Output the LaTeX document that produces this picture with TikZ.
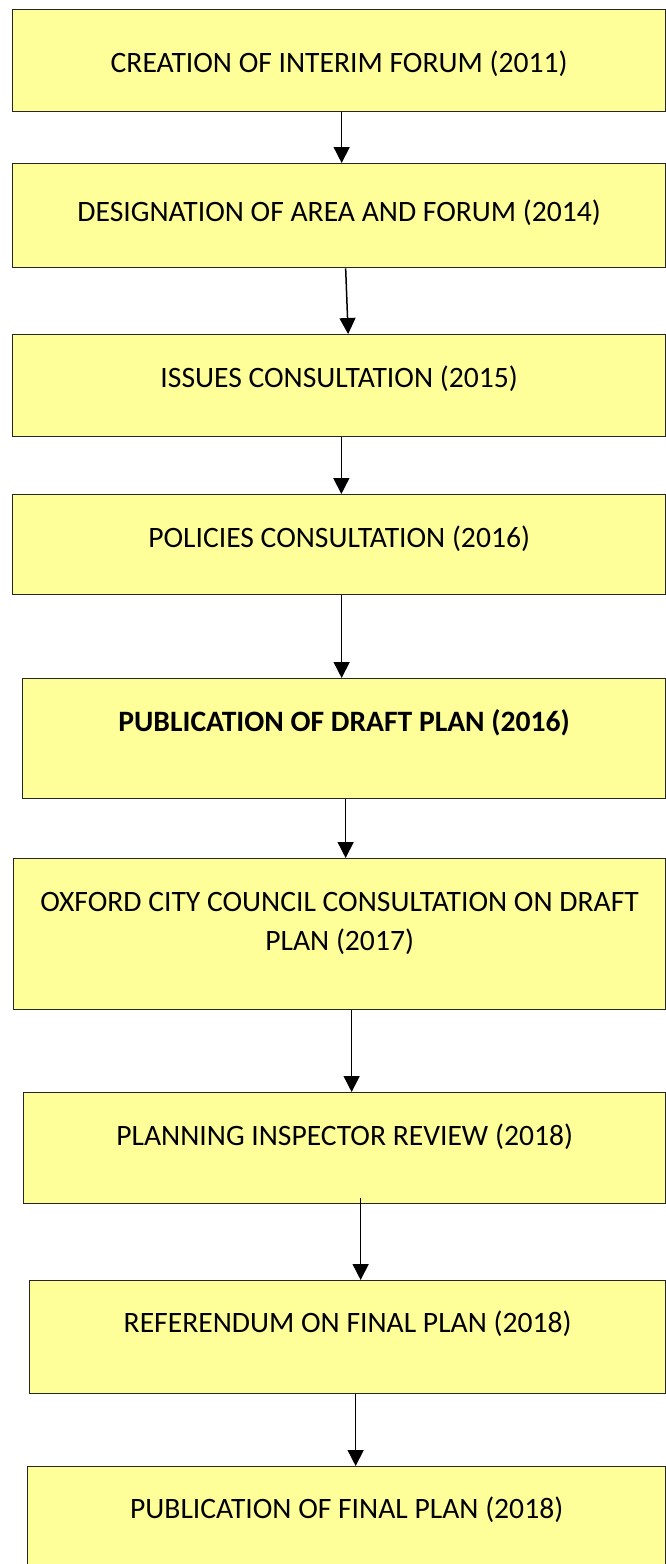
\documentclass[tikz,border=0pt]{standalone}
\usepackage{fontspec}
\setmainfont{Carlito}
\usetikzlibrary{arrows.meta}

\tikzset{
    stage/.style={draw=black!85, fill=boxyellow, line width=1.3pt, anchor=north west,
        inner sep=0pt, align=center, font=\fontsize{29.6pt}{39pt}\selectfont},
    flow/.style={-{Triangle[length=16pt,width=16pt]}, line width=1.5pt}
}

\begin{document}
\begin{tikzpicture}[x=1pt,y=-1pt]
        \definecolor{boxyellow}{RGB}{255, 255, 153}
        \useasboundingbox (0,0) rectangle (666,1564);

        \node[stage, minimum width=653pt, text height=63pt, text depth=39pt] (b1) at (12,9) {CREATION OF INTERIM FORUM (2011)};
        \node[stage, minimum width=653pt, text height=58pt, text depth=46pt] (b2) at (12,163) {DESIGNATION OF AREA AND FORUM (2014)};
        \node[stage, minimum width=653pt, text height=53pt, text depth=49pt] (b3) at (12,334) {ISSUES CONSULTATION (2015)};
        \node[stage, minimum width=653pt, text height=53pt, text depth=47pt] (b4) at (12,494) {POLICIES CONSULTATION (2016)};
        \node[stage, minimum width=643pt, text height=53pt, text depth=67pt] (b5) at (22,678) {\bfseries PUBLICATION OF DRAFT PLAN (2016)};
        \node[stage, minimum width=652pt, text height=92pt, text depth=59pt] (b6) at (13,858) {OXFORD CITY COUNCIL CONSULTATION ON DRAFT\\PLAN (2017)};
        \node[stage, minimum width=642pt, text height=53pt, text depth=58pt] (b7) at (23,1092) {PLANNING INSPECTOR REVIEW (2018)};
        \node[stage, minimum width=636pt, text height=52pt, text depth=61pt] (b8) at (29,1280) {REFERENDUM ON FINAL PLAN (2018)};
        \node[stage, minimum width=638pt, text height=52pt, text depth=57pt] (b9) at (27,1466) {PUBLICATION OF FINAL PLAN (2018)};

        % arrows between the stages
        \draw[flow] ([xshift=2.5pt]b1.south) -- ([xshift=2.5pt]b2.north);
        \draw[flow] ([xshift=6.5pt]b2.south) -- ([xshift=9pt]b3.north);
        \draw[flow] ([xshift=2.2pt]b3.south) -- ([xshift=2.2pt]b4.north);
        \draw[flow] ([xshift=2.5pt]b4.south) -- ([xshift=-2.5pt]b5.north);
        \draw[flow] ([xshift=1.5pt]b5.south) -- ([xshift=6pt]b6.north);
        \draw[flow] ([xshift=12pt]b6.south) -- ([xshift=7pt]b7.north);
        \draw[flow] ([xshift=16pt,yshift=6pt]b7.south) -- ([xshift=13pt]b8.north);
        \draw[flow] ([xshift=8pt]b8.south) -- ([xshift=9pt]b9.north);
    \end{tikzpicture}
\end{document}
